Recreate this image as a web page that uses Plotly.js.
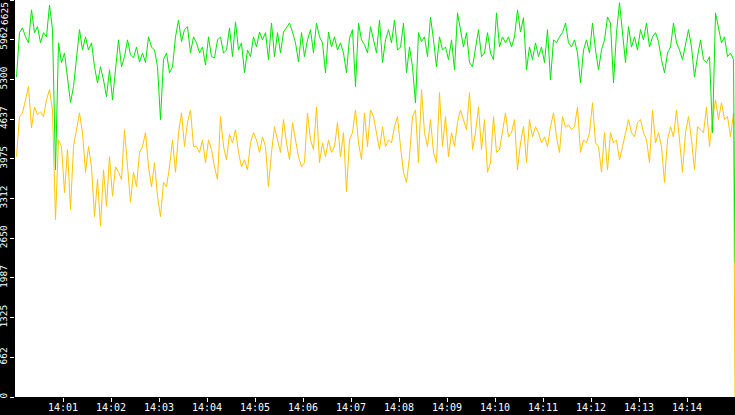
<!DOCTYPE html>
<html>
<head>
<meta charset="utf-8">
<script src="https://cdn.plot.ly/plotly-3.0.1.min.js"></script>
<style>
  html, body { margin: 0; padding: 0; background: #000; }
  #chart { width: 735px; height: 415px; }
</style>
</head>
<body>
<div id="chart"></div>
<script>
// one sample every 3.75 s from 14:00:01.875, last sample at 14:15:00
var day = '2024-01-01 ';
var startTime = new Date(day + '14:00:01.875').getTime();
var stepMs = 3750;

var greenValues = [
  5340,6080,6160,6010,5910,6460,6080,6180,5910,6080,6010,6540,6130,3790,5910,5580,5740,5340,4910,5180,5680,6130,5790,6010,5790,5910,5510,5240,5510,5290,
  5010,5460,4960,5410,5960,5510,5680,5960,5710,5660,5840,5590,5740,5580,6010,5840,5790,5510,4630,5630,5740,5410,5510,6010,6290,5930,6130,6180,5740,6010,
  5910,5740,5840,5540,6010,5680,5660,5960,6010,5740,5790,6160,5680,6260,5790,5910,5410,5790,5680,6010,5840,6090,5960,6080,5630,6240,5680,6080,5740,6090,
  6160,6240,6090,5910,5590,6080,5680,5960,6130,5740,6240,6010,5910,5410,6090,5840,6010,5790,5910,5740,5410,5990,6130,5180,6240,5960,5880,5740,6180,5960,
  5740,6290,5580,5960,6130,5910,6290,5790,5840,6240,5410,5840,5510,4910,6080,5930,6010,5680,6340,5960,5510,6010,5790,5840,5630,5960,5460,6410,6130,5840,
  6080,5580,5510,5790,6130,5680,5740,6080,5740,5630,6410,5840,6010,5910,6010,5840,6010,6460,6090,6330,5460,5840,5630,5910,5680,5840,5580,6130,5290,5960,
  5910,6010,6080,6240,5910,5840,5960,5740,5240,5790,5960,5740,6240,5790,5460,5790,5960,6340,6240,5240,6080,6580,6010,5580,6180,5840,6010,5790,6130,5960,
  6240,5840,6010,6080,5930,5630,5410,5740,5840,6240,5910,5790,5630,5910,6130,5840,5340,5680,5960,5630,5580,5680,4410,6410,6130,5910,6010,5680,5740,5630,
  2250
];

var yellowValues = [
  4010,4680,4740,4960,5180,4490,4840,4710,4760,4680,4960,5130,4790,2960,4290,4180,3410,4130,3130,4180,4460,4740,4410,3750,4180,3840,3010,3630,2850,3790,
  3180,4010,3350,3840,3750,3630,4460,3840,3250,3750,3510,4080,4180,4410,3840,3510,3910,3350,3010,3580,3510,3840,4290,3750,4410,4740,4180,4580,4790,4180,
  4180,4080,4290,3910,4290,4130,3840,3630,4680,4180,3960,4380,4240,4460,4080,3840,3960,3790,4240,4410,4290,4080,4340,4180,3510,4080,4510,4290,4080,4630,
  4240,3960,4580,4290,4010,3840,3910,4740,4290,4130,4840,3910,4240,4010,4290,4080,4180,4580,4010,4410,3430,4290,4410,4790,4240,3960,4740,4180,4790,4680,
  4410,4130,4510,4180,4290,4240,4510,4680,4180,3750,3580,4010,4680,4790,3910,5130,4410,4180,4630,4080,3910,5080,4180,4680,4010,4410,4180,4580,4790,4630,
  4460,5080,4130,4410,4840,4130,4630,3750,3910,4680,4080,4130,4460,4740,4340,4410,4630,3790,4240,4510,3910,4630,4340,4510,4410,4240,4340,4180,4510,4740,
  4340,4080,4680,4510,4540,4460,4510,4840,4080,4290,4240,4410,4910,4240,4180,3750,4410,3790,4410,4240,4290,3960,4180,4410,4630,4410,4340,4580,4630,4410,
  4290,3910,4790,4240,4410,4180,3580,4290,4510,4340,4790,4290,3750,4410,4680,4290,3790,4510,4460,4410,4840,4180,4630,4960,4630,4910,4630,4680,4340,4740,
  0
];

// the top label (6625) is drawn as an annotation so it can sit inside the frame
var yTickVals = [0, 662.5, 1325, 1987.5, 2650, 3312.5, 3975, 4637.5, 5300, 5962.5, 6625];
var yTickText = ['0', '662', '1325', '1987', '2650', '3312', '3975', '4637', '5300', '5962', ''];
var yTopLabel = '6625';
var xTickText = ['14:01','14:02','14:03','14:04','14:05','14:06','14:07','14:08','14:09','14:10','14:11','14:12','14:13','14:14'];

var pad = function (n, w) { return String(n).padStart(w || 2, '0'); };
var times = [];
for (var i = 0; i < greenValues.length - 1; i++) {
  var d = new Date(startTime + i * stepMs);
  times.push(day + pad(d.getHours()) + ':' + pad(d.getMinutes()) + ':' + pad(d.getSeconds()) + '.' + pad(d.getMilliseconds(), 3));
}
times.push(day + '14:15:00');

var xTickVals = xTickText.map(function (t) { return day + t + ':00'; });

var data = [{
  x: times,
  y: yellowValues,
  type: 'scatter',
  mode: 'lines',
  line: {color: '#ffc400', width: 1},
  hoverinfo: 'skip'
}, {
  x: times,
  y: greenValues,
  type: 'scatter',
  mode: 'lines',
  line: {color: '#00e600', width: 1},
  hoverinfo: 'skip'
}];

var layout = {
  width: 735,
  height: 415,
  margin: {l: 15, r: 0, t: 0, b: 18, pad: 0},
  paper_bgcolor: '#000000',
  plot_bgcolor: '#ffffff',
  showlegend: false,
  font: {family: 'DejaVu Sans Mono', size: 10, color: '#ffffff'},
  xaxis: {
    type: 'date',
    range: [day + '14:00:00', day + '14:15:00'],
    tickvals: xTickVals,
    ticktext: xTickText,
    ticks: 'outside',
    ticklen: 4,
    tickwidth: 1,
    tickcolor: '#ffffff',
    ticklabelstandoff: -3,
    showgrid: false,
    zeroline: false,
    showline: false,
    automargin: false
  },
  yaxis: {
    range: [0, 6625],
    tickvals: yTickVals,
    ticktext: yTickText,
    tickangle: -90,
    tickfont: {family: 'DejaVu Sans Mono', size: 9.5, color: '#ffffff'},
    ticks: 'outside',
    ticklen: 4,
    tickwidth: 1,
    tickcolor: '#ffffff',
    ticklabelstandoff: -1,
    showgrid: false,
    zeroline: false,
    showline: false,
    automargin: false
  },
  annotations: [{
    text: yTopLabel,
    textangle: -90,
    xref: 'paper',
    yref: 'y',
    x: 0,
    y: 6625,
    xanchor: 'right',
    yanchor: 'top',
    xshift: -4,
    yshift: -1,
    showarrow: false,
    borderpad: 0,
    font: {family: 'DejaVu Sans Mono', size: 9.5, color: '#ffffff'}
  }]
};

Plotly.newPlot('chart', data, layout, {displayModeBar: false, staticPlot: true});
</script>
</body>
</html>
